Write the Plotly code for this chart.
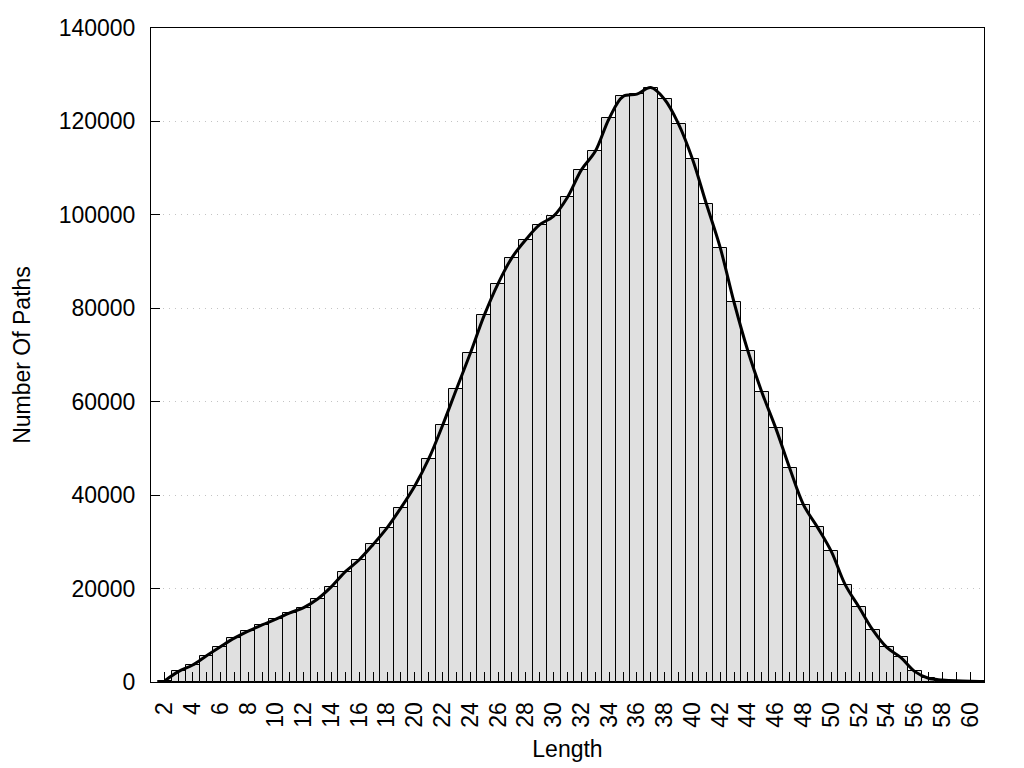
import plotly.graph_objects as go

# Path length histogram
lengths = [2, 3, 4, 5, 6, 7, 8, 9, 10, 11, 12, 13, 14, 15, 16, 17, 18, 19, 20, 21,
           22, 23, 24, 25, 26, 27, 28, 29, 30, 31, 32, 33, 34, 35, 36, 37, 38, 39, 40, 41,
           42, 43, 44, 45, 46, 47, 48, 49, 50, 51, 52, 53, 54, 55, 56, 57, 58, 59, 60, 61]

paths = [300, 2280, 3630, 5620, 7540, 9390, 10880, 12230, 13440, 14790,
         15940, 17780, 20420, 23620, 26180, 29450, 33010, 37280, 41970, 47740,
         54920, 62680, 70360, 78470, 85300, 90850, 94690, 97890, 99730, 103780,
         109630, 113600, 120640, 125340, 125840, 127260, 124700, 119440, 111970, 102370,
         92980, 81240, 70790, 62040, 54350, 45820, 37920, 33150, 27960, 20840,
         16000, 11100, 7400, 5270, 2280, 800, 450, 250, 150, 100]

# every integer gets a tick, only even lengths get a label
tick_vals = [1] + lengths
tick_text = [''] + [str(v) if v % 2 == 0 else '' for v in lengths]

FONT = 'Liberation Sans, Arial, sans-serif'

fig = go.Figure()

fig.add_trace(go.Bar(
    x=lengths,
    y=paths,
    width=1,
    marker=dict(color='#e0e0e0', line=dict(color='black', width=1)),
    showlegend=False,
    hoverinfo='skip'
))

# smooth curve through the bar tops
fig.add_trace(go.Scatter(
    x=lengths,
    y=paths,
    mode='lines',
    line=dict(color='black', width=3, shape='spline', smoothing=1),
    showlegend=False,
    hoverinfo='skip'
))

# the page body adds an 8px margin, margins below account for it
fig.update_layout(
    width=1024,
    height=768,
    plot_bgcolor='white',
    paper_bgcolor='white',
    bargap=0,
    font=dict(family=FONT, size=23, color='black'),
    margin=dict(l=143, r=48, t=20, b=94, autoexpand=False),
    xaxis=dict(
        range=[1, 61],
        tickmode='array',
        tickvals=tick_vals,
        ticktext=tick_text,
        tickangle=-90,
        ticks='inside',
        ticklen=10,
        tickcolor='black',
        ticklabelstandoff=10,
        showgrid=False,
        zeroline=False,
        showline=True,
        linecolor='black',
        linewidth=1,
        mirror=True,
        title=dict(text='Length', standoff=14, font=dict(size=23)),
    ),
    yaxis=dict(
        range=[0, 140000],
        dtick=20000,
        tickformat='d',
        ticks='inside',
        ticklen=9,
        tickcolor='black',
        ticklabelstandoff=10,
        showgrid=True,
        gridcolor='#c4c4c4',
        griddash='1px,5px',
        gridwidth=1,
        zeroline=False,
        showline=True,
        linecolor='black',
        linewidth=1,
        mirror=True,
        title=dict(text='Number Of Paths', standoff=21, font=dict(size=23)),
    ),
)

fig.write_html("out.html")
